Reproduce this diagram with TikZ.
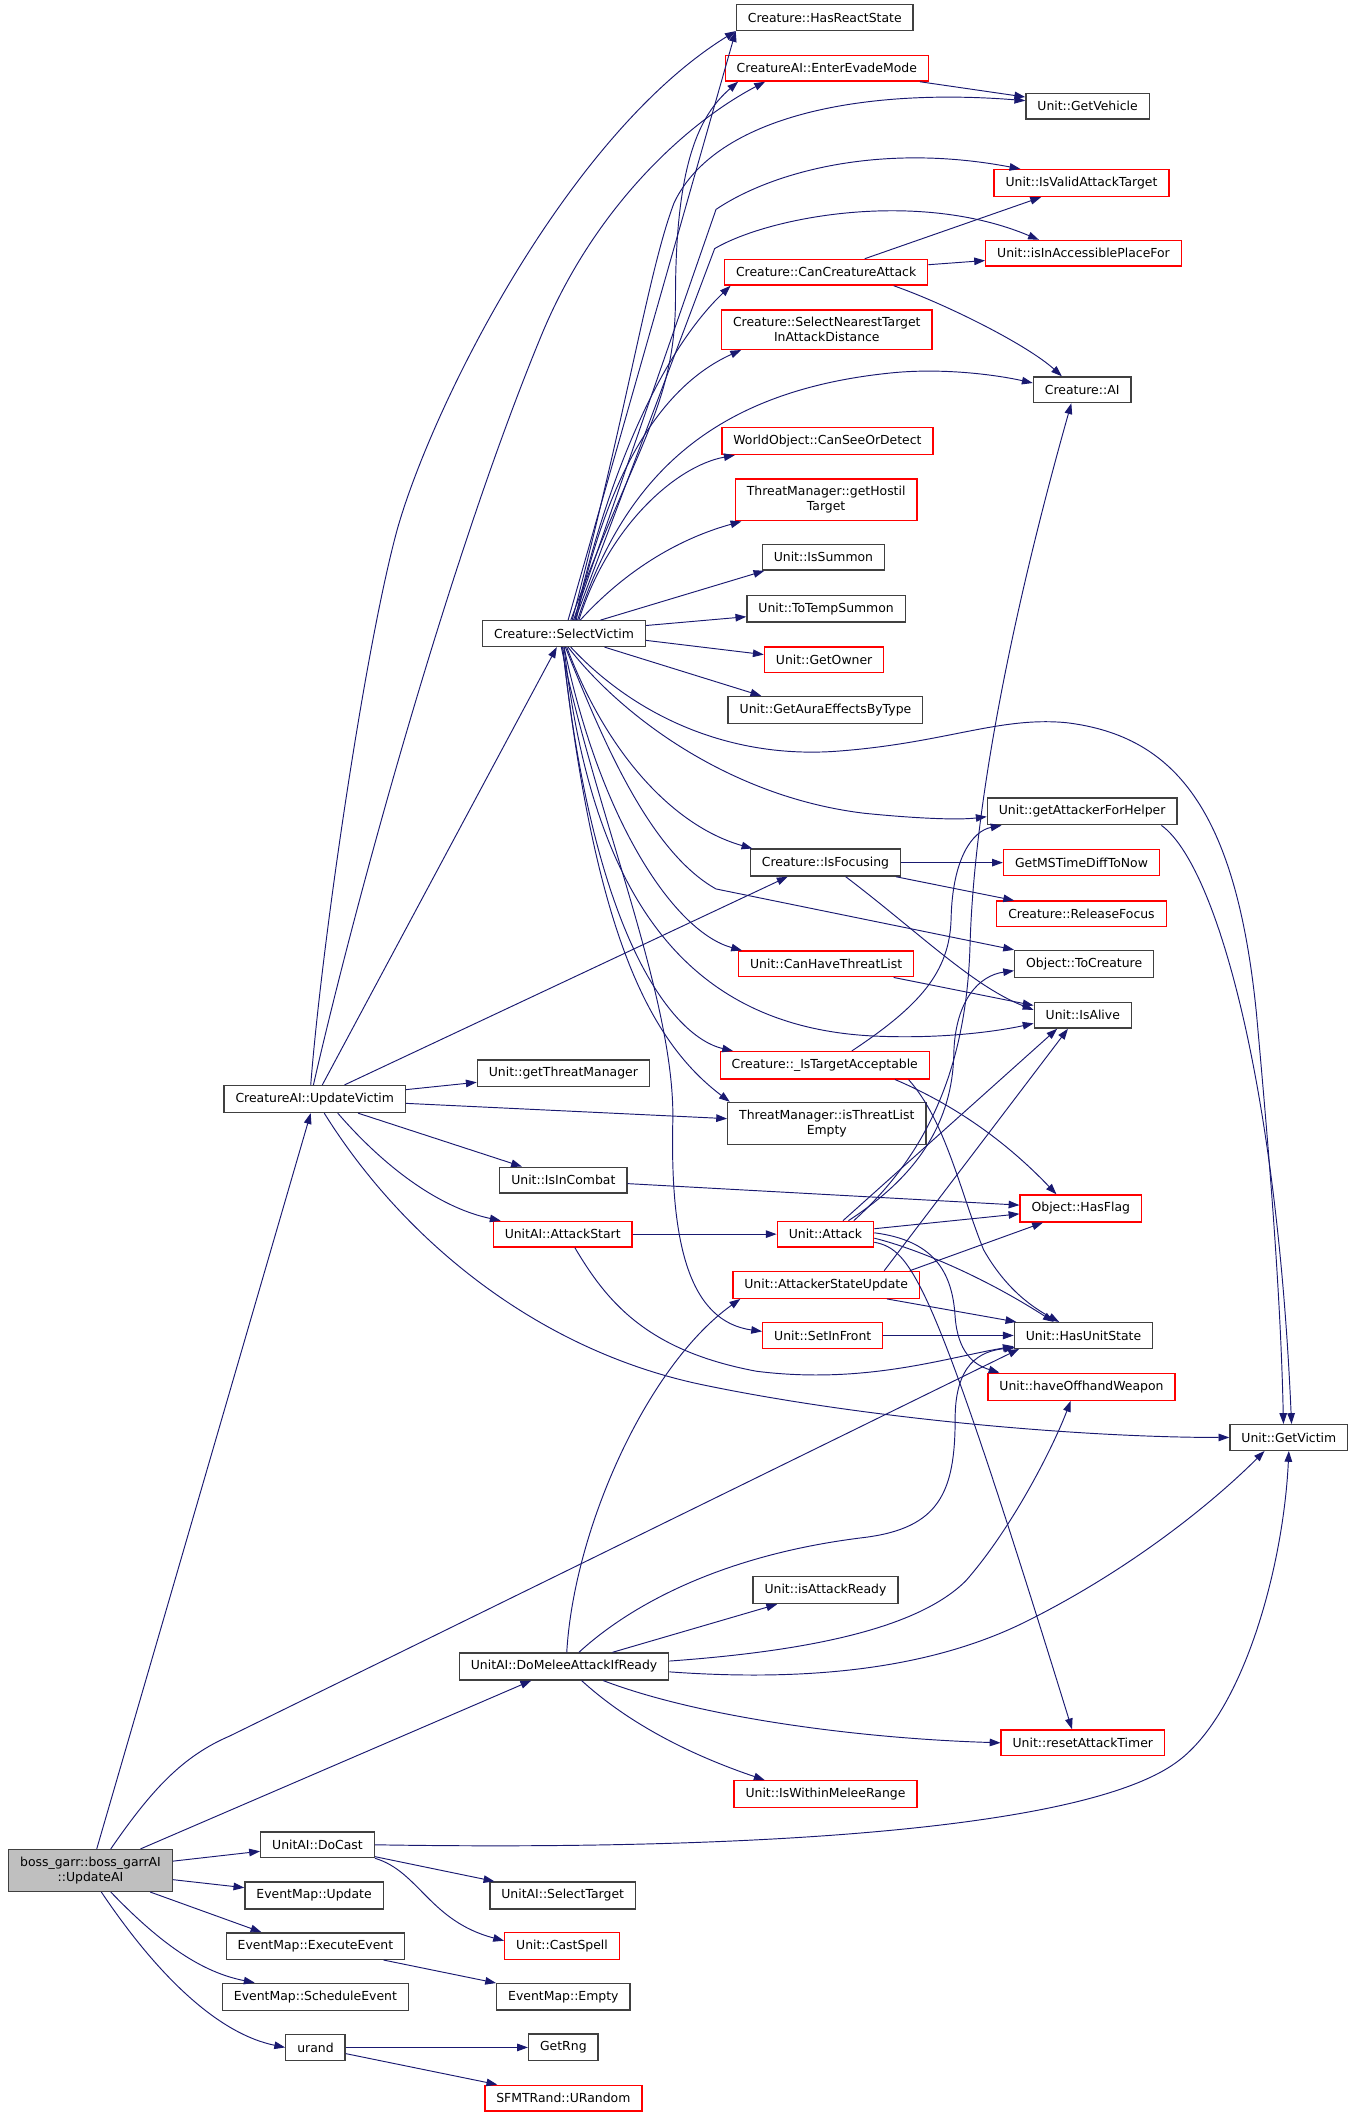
\documentclass[tikz,border=0pt]{standalone}
\usepackage{fontspec}
\setmainfont{DejaVu Sans}
\usepackage{tikz}
\usetikzlibrary{arrows.meta,positioning,calc}
\definecolor{navy}{RGB}{25,25,112}
\definecolor{rootgray}{RGB}{191,191,191}
\definecolor{boxred}{RGB}{255,0,0}
\definecolor{boxgray}{RGB}{64,64,64}

\begin{document}
\begin{tikzpicture}[
    x=1pt, y=-1pt,
    fn/.style={rectangle, draw=boxgray, line width=1pt, fill=white, minimum height=19pt, inner xsep=8.5pt, inner ysep=5.5pt, align=center, font=\fontsize{9.2}{11}\selectfont},
    fn-red/.style={fn, draw=boxred},
    fn-root/.style={fn, fill=rootgray},
    call-arrow/.style={-{Triangle[length=8pt,width=5.6pt]}, navy, line width=0.7pt}
]
\useasboundingbox (0,0) rectangle (1000,1563.3);

% Callees of Creature::SelectVictim (top column)
\node[fn] (hrs) at (610.5,13) {Creature::HasReactState};
\node[fn-red] (eem) at (612,50.5) {CreatureAI::EnterEvadeMode};
\node[fn] (veh) at (805,78.5) {Unit::GetVehicle};
\node[fn-red] (vat) at (800.5,135.5) {Unit::IsValidAttackTarget};
\node[fn-red] (acc) at (802,187.5) {Unit::isInAccessiblePlaceFor};
\node[fn-red] (cca) at (611.5,201.5) {Creature::CanCreatureAttack};
\node[fn-red] (snt) at (612,244) {Creature::SelectNearestTarget\\InAttackDistance};
\node[fn] (cai) at (801,288.5) {Creature::AI};
\node[fn-red] (csd) at (612.5,326.5) {WorldObject::CanSeeOrDetect};
\node[fn-red] (ght) at (611.5,370) {ThreatManager::getHostil\\Target};
\node[fn] (sum) at (609.5,412.5) {Unit::IsSummon};
\node[fn] (tts) at (611.5,450.5) {Unit::ToTempSummon};
\node[fn] (sv) at (417.5,469) {Creature::SelectVictim};
\node[fn-red] (own) at (610,488.5) {Unit::GetOwner};
\node[fn] (aura) at (611,525.5) {Unit::GetAuraEffectsByType};
\node[fn] (afh) at (801,600.5) {Unit::getAttackerForHelper};
\node[fn] (foc) at (611,638.5) {Creature::IsFocusing};
\node[fn-red] (msd) at (800.5,638.5) {GetMSTimeDiffToNow};
\node[fn-red] (rf) at (800.5,676.5) {Creature::ReleaseFocus};
\node[fn] (toc) at (802.5,713.5) {Object::ToCreature};
\node[fn-red] (chtl) at (611.5,713.5) {Unit::CanHaveThreatList};
\node[fn] (alive) at (801.5,751.5) {Unit::IsAlive};
\node[fn-red] (ita) at (610.5,788.5) {Creature::\_IsTargetAcceptable};

% Callees of CreatureAI::UpdateVictim
\node[fn] (gtm) at (417,794.5) {Unit::getThreatManager};
\node[fn] (uv) at (233,813.5) {CreatureAI::UpdateVictim};
\node[fn] (tle) at (612,831.5) {ThreatManager::isThreatList\\Empty};
\node[fn] (inc) at (417,873.5) {Unit::IsInCombat};
\node[fn-red] (flag) at (800,894.5) {Object::HasFlag};
\node[fn-red] (ast) at (416.5,913.5) {UnitAI::AttackStart};
\node[fn-red] (att) at (611,913.5) {Unit::Attack};
\node[fn-red] (asu) at (611.5,951) {Unit::AttackerStateUpdate};
\node[fn-red] (sif) at (609,988.5) {Unit::SetInFront};
\node[fn] (hus) at (802,988.5) {Unit::HasUnitState};
\node[fn-red] (ohw) at (800.5,1026.5) {Unit::haveOffhandWeapon};
\node[fn] (gv) at (954,1064) {Unit::GetVictim};

% Callees of UnitAI::DoMeleeAttackIfReady
\node[fn] (iar) at (611,1177) {Unit::isAttackReady};
\node[fn] (dm) at (417.5,1233.5) {UnitAI::DoMeleeAttackIfReady};
\node[fn-red] (rat) at (801.5,1290) {Unit::resetAttackTimer};
\node[fn-red] (wmr) at (611,1328) {Unit::IsWithinMeleeRange};

% Root and the lower callees
\node[fn-root] (root) at (67,1384.5) {boss\_garr::boss\_garrAI\\::UpdateAI};
\node[fn] (dc) at (235,1365.5) {UnitAI::DoCast};
\node[fn] (emu) at (232.5,1403) {EventMap::Update};
\node[fn] (st) at (416.5,1403) {UnitAI::SelectTarget};
\node[fn] (ee) at (233.5,1440.5) {EventMap::ExecuteEvent};
\node[fn-red] (cs) at (416,1440.5) {Unit::CastSpell};
\node[fn] (se) at (233.5,1478) {EventMap::ScheduleEvent};
\node[fn] (emp) at (417,1478) {EventMap::Empty};
\node[fn] (ur) at (233.5,1515.5) {urand};
\node[fn] (rng) at (417,1515.5) {GetRng};
\node[fn-red] (urnd) at (417,1553) {SFMTRand::URandom};

% boss_garr::boss_garrAI::UpdateAI
\draw[call-arrow] (root) -- (uv);
\draw[call-arrow] ([xshift=15pt]root.north) .. controls (112,1325) and (135,1300) .. (170,1285) -- ([xshift=4pt]hus.south west);
\draw[call-arrow] (root) -- (dm);
\draw[call-arrow] (root) -- (dc);
\draw[call-arrow] (root) -- (emu);
\draw[call-arrow] (root) -- ([xshift=-40pt]ee.north);
\draw[call-arrow] ([xshift=15pt]root.south) .. controls (120,1440) and (150,1460) .. ([xshift=-45pt]se.north);
\draw[call-arrow] ([xshift=8pt]root.south) .. controls (115,1460) and (160,1505) .. (ur.west);

% UnitAI::DoCast, EventMap::ExecuteEvent, urand
\draw[call-arrow] (dc) -- (st);
\draw[call-arrow] (dc.south east) .. controls (310,1385) and (318,1422) .. ([yshift=4pt]cs.west);
\draw[call-arrow] (dc.east) .. controls (550,1370) and (800,1355) .. (870,1305) .. controls (920,1270) and (950,1160) .. (gv.south);
\draw[call-arrow] (ee) -- (emp);
\draw[call-arrow] (ur) -- (rng);
\draw[call-arrow] (ur) -- (urnd);

% UnitAI::DoMeleeAttackIfReady
\draw[call-arrow] ([xshift=11pt]dm.north) .. controls (470,1185) and (540,1150) .. (640,1138) .. controls (695,1131) and (707,1105) .. (707,1050) .. controls (707,1010) and (725,1000) .. ([xshift=1pt,yshift=1pt]hus.south west);
\draw[call-arrow] ([xshift=2pt]dm.north) .. controls (425,1130) and (480,1010) .. ([xshift=6pt]asu.south west);
\draw[call-arrow] (dm) -- (iar);
\draw[call-arrow] ([yshift=4pt]dm.east) .. controls (600,1222) and (680,1205) .. (715,1170) .. controls (750,1130) and (780,1070) .. ([xshift=-8pt]ohw.south);
\draw[call-arrow] ([yshift=-4pt]dm.east) .. controls (600,1245) and (690,1235) .. (760,1200) .. controls (840,1160) and (900,1110) .. ([xshift=-18pt]gv.south);
\draw[call-arrow] ([xshift=29pt]dm.south) .. controls (520,1272) and (640,1287) .. (rat.west);
\draw[call-arrow] ([xshift=13pt]dm.south) .. controls (470,1280) and (520,1302) .. ([xshift=-45pt]wmr.north);

% CreatureAI::UpdateVictim
\draw[call-arrow] ([xshift=-3pt]uv.north) .. controls (238,700) and (270,480) .. (294,392) .. controls (320,300) and (420,100) .. (hrs.south west);
\draw[call-arrow] ([xshift=-1pt]uv.north) .. controls (260,680) and (330,420) .. (400,250) .. controls (440,152) and (510,90) .. ([xshift=30pt]eem.south west);
\draw[call-arrow] (uv) -- (sv);
\draw[call-arrow] ([xshift=22pt]uv.north) -- ([xshift=-28pt]foc.south);
\draw[call-arrow] (uv) -- (gtm);
\draw[call-arrow] (uv) -- (tle);
\draw[call-arrow] (uv) -- (inc);
\draw[call-arrow] ([xshift=17pt]uv.south) .. controls (290,870) and (330,895) .. ([xshift=6pt]ast.north west);
\draw[call-arrow] ([xshift=7pt]uv.south) .. controls (300,920) and (400,1000) .. (520,1025) .. controls (640,1050) and (800,1064) .. (gv.west);

% Creature::SelectVictim, upwards
\draw[call-arrow] ([xshift=3pt]sv.north) -- (hrs.south west);
\draw[call-arrow] ([xshift=5pt]sv.north) .. controls (470,330) and (500,300) .. (500,220) .. controls (500,120) and (518,85) .. ([xshift=10pt]eem.south west);
\draw[call-arrow] ([xshift=6pt]sv.north) .. controls (465,300) and (480,200) .. (499,150) .. controls (530,85) and (640,65) .. ([yshift=4pt]veh.west);
\draw[call-arrow] ([xshift=7pt]sv.north) -- (530,155) .. controls (570,128) and (650,105) .. ([xshift=20pt]vat.north west);
\draw[call-arrow] ([xshift=8pt]sv.north) -- (529,184) .. controls (570,160) and (680,140) .. ([xshift=-33pt]acc.north);
\draw[call-arrow] ([xshift=8pt]sv.north) .. controls (450,350) and (490,260) .. ([xshift=5pt]cca.south west);
\draw[call-arrow] ([xshift=9pt]sv.north) .. controls (445,370) and (480,290) .. ([xshift=15pt]snt.south west);
\draw[call-arrow] ([xshift=10pt]sv.north) .. controls (460,360) and (520,290) .. (660,276) .. controls (700,272) and (740,278) .. ([yshift=5pt]cai.west);
\draw[call-arrow] ([xshift=11pt]sv.north) .. controls (450,390) and (500,345) .. ([xshift=10pt]csd.south west);
\draw[call-arrow] ([xshift=12pt]sv.north) .. controls (465,420) and (505,398) .. ([xshift=5pt]ght.south west);
\draw[call-arrow] ([xshift=27pt]sv.north) -- ([xshift=2pt]sum.south west);
\draw[call-arrow] ([yshift=6pt]sv.east) -- ([yshift=-6pt]tts.west);
\draw[call-arrow] ([yshift=-5pt]sv.east) -- ([yshift=4pt]own.west);

% Creature::SelectVictim, downwards
\draw[call-arrow] ([xshift=30pt]sv.south) -- ([xshift=25pt]aura.north west);
\draw[call-arrow] ([xshift=5pt]sv.south) .. controls (470,530) and (540,562) .. (620,556) .. controls (700,550) and (740,530) .. (790,535) .. controls (870,545) and (915,600) .. (930,750) .. controls (940,860) and (948,960) .. ([xshift=-4pt]gv.north);
\draw[call-arrow] ([xshift=3pt]sv.south) .. controls (460,530) and (540,590) .. (640,602) .. controls (680,606) and (710,607) .. ([yshift=-4pt]afh.west);
\draw[call-arrow] ([xshift=2pt]sv.south) .. controls (450,560) and (500,612) .. ([xshift=2pt]foc.north west);
\draw[call-arrow] ([xshift=1pt]sv.south) .. controls (445,545) and (480,630) .. (530,658) -- (toc.north west);
\draw[call-arrow] (sv.south) .. controls (445,610) and (500,690) .. ([xshift=3pt]chtl.north west);
\draw[call-arrow] (sv.south) .. controls (440,680) and (520,762) .. (650,767) .. controls (700,769) and (740,763) .. ([yshift=-6pt]alive.west);
\draw[call-arrow] ([xshift=-1pt]sv.south) .. controls (440,700) and (500,768) .. ([xshift=10pt]ita.north west);
\draw[call-arrow] ([xshift=-1pt]sv.south) .. controls (440,690) and (480,770) .. ([xshift=2pt]tle.north west);
\draw[call-arrow] ([xshift=-2pt]sv.south) .. controls (440,600) and (500,740) .. (498,830) .. controls (496,920) and (510,978) .. ([yshift=3pt]sif.west);

% Smaller callers on the right
\draw[call-arrow] (eem) -- (veh);
\draw[call-arrow] (cca) -- (vat);
\draw[call-arrow] (cca) -- (acc);
\draw[call-arrow] ([xshift=50pt]cca.south) .. controls (700,225) and (760,255) .. ([xshift=-15pt]cai.north);
\draw[call-arrow] (foc) -- (msd);
\draw[call-arrow] (foc) -- (rf);
\draw[call-arrow] ([xshift=15pt]foc.south) .. controls (680,690) and (720,730) .. ([yshift=4pt]alive.west);
\draw[call-arrow] (chtl) -- (alive);
\draw[call-arrow] ([xshift=20pt]ita.north) .. controls (680,745) and (703,720) .. (704,680) .. controls (705,635) and (720,615) .. ([xshift=11pt]afh.south west);
\draw[call-arrow] ([xshift=52pt]ita.south) .. controls (700,815) and (740,840) .. ([xshift=-18pt]flag.north);
\draw[call-arrow] ([xshift=62pt]ita.south) .. controls (700,830) and (710,880) .. (728,925) .. controls (745,955) and (765,968) .. ([xshift=-18pt]hus.north);
\draw[call-arrow] (inc) -- (flag);
\draw[call-arrow] (ast) -- (att);
\draw[call-arrow] ([xshift=9pt]ast.south) .. controls (450,965) and (480,1000) .. (560,1015) .. controls (640,1025) and (700,1005) .. ([yshift=2pt]hus.south west);
\draw[call-arrow] ([xshift=-12pt]afh.south east) .. controls (900,640) and (945,800) .. ([xshift=2pt]gv.north);

% Unit::Attack
\draw[call-arrow] ([yshift=4pt]att.east) -- ([yshift=-4pt]flag.west);
\draw[call-arrow] ([yshift=-3pt]att.east) .. controls (670,922) and (720,940) .. ([xshift=-22pt]hus.north);
\draw[call-arrow] ([yshift=1pt]att.east) .. controls (690,918) and (705,940) .. (707,975) .. controls (709,1000) and (720,1010) .. ([xshift=9pt]ohw.north west);
\draw[call-arrow] ([yshift=-6pt]att.east) .. controls (675,925) and (690,945) .. ([xshift=-8pt]rat.north);
\draw[call-arrow] ([xshift=13pt]att.north) -- ([xshift=-19pt]alive.south);
\draw[call-arrow] ([xshift=17pt]att.north) .. controls (680,870) and (705,830) .. (706,780) .. controls (707,740) and (725,722) .. ([yshift=-5pt]toc.west);
\draw[call-arrow] ([xshift=21pt]att.north) .. controls (680,860) and (715,800) .. (718,700) .. controls (722,560) and (770,380) .. ([xshift=-8pt]cai.south);

% Unit::AttackerStateUpdate, Unit::SetInFront
\draw[call-arrow] ([xshift=62pt]asu.north) -- ([xshift=-28pt]flag.south);
\draw[call-arrow] ([xshift=43pt]asu.north) -- ([xshift=-11pt]alive.south);
\draw[call-arrow] ([xshift=45pt]asu.south) -- ([xshift=2pt]hus.north west);
\draw[call-arrow] (sif) -- (hus);

\end{tikzpicture}
\end{document}
